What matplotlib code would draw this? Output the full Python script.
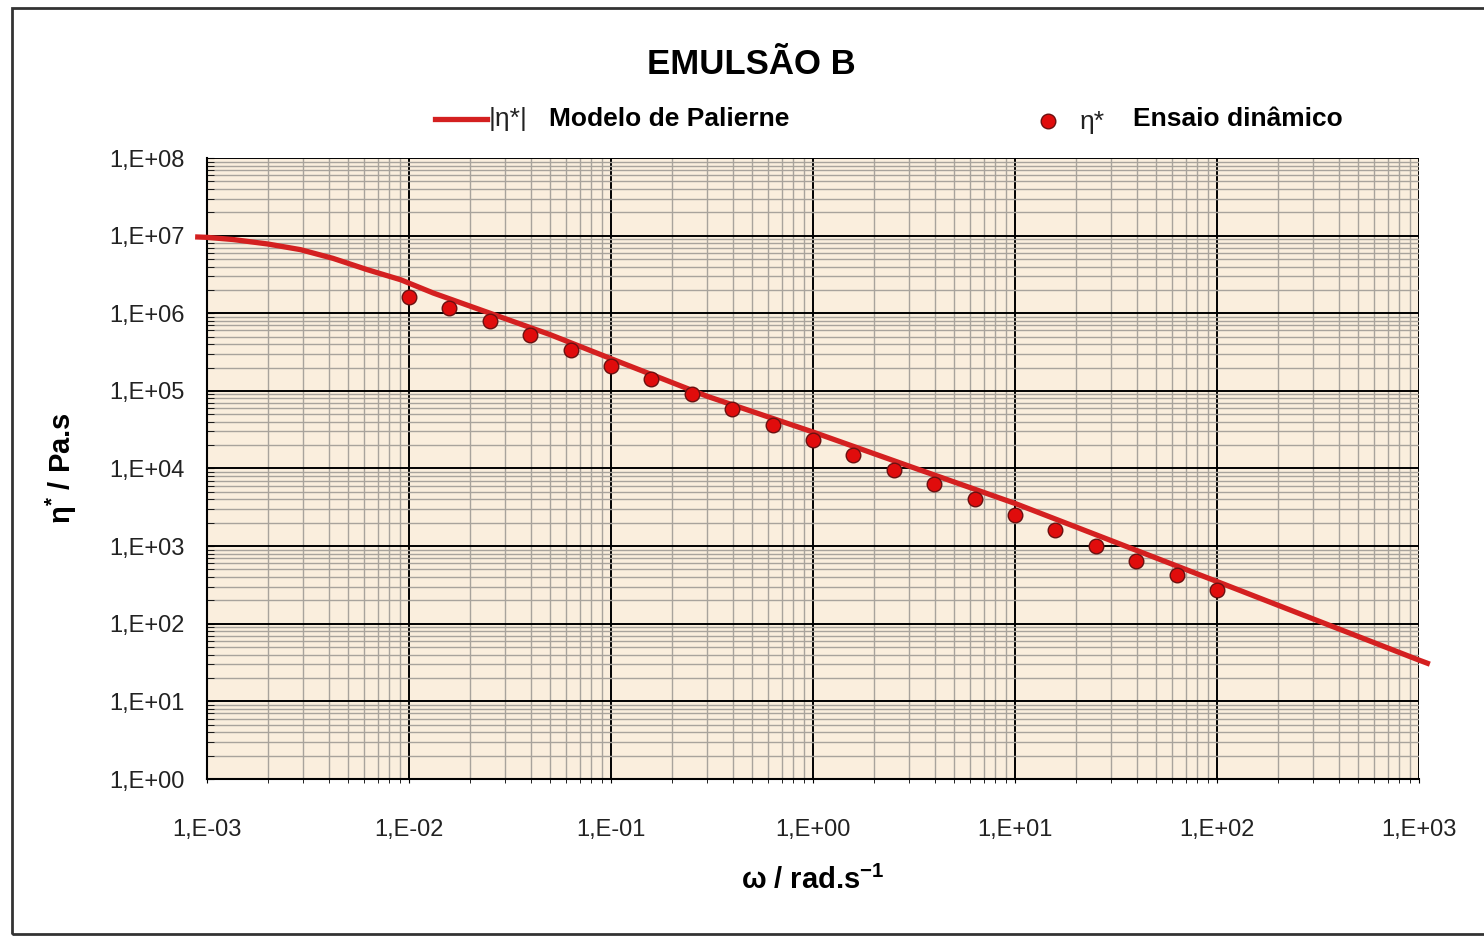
import matplotlib
matplotlib.use("Agg")
import matplotlib.pyplot as plt
import matplotlib.ticker as mticker
from matplotlib.lines import Line2D
from matplotlib.patches import Rectangle
import numpy as np

plt.rcParams['font.family'] = ['Liberation Sans', 'DejaVu Sans']
plt.rcParams['mathtext.fontset'] = 'custom'
plt.rcParams['mathtext.rm'] = 'Liberation Sans:bold'
plt.rcParams['mathtext.bf'] = 'Liberation Sans:bold'

# Ensaio dinamico (measured points)
omega_exp = [0.01, 0.0158, 0.0251, 0.0398, 0.0631, 0.1, 0.158, 0.251, 0.398, 0.631,
             1.0, 1.58, 2.51, 3.98, 6.31, 10.0, 15.8, 25.1, 39.8, 63.1, 100.0]
eta_exp = [1.6e6, 1.17e6, 8.0e5, 5.3e5, 3.4e5, 2.1e5, 1.42e5, 9.1e4, 5.9e4, 3.6e4,
           2.3e4, 1.5e4, 9.6e3, 6.3e3, 4.1e3, 2.5e3, 1.6e3, 1.0e3, 6.4e2, 4.3e2, 2.7e2]

# Modelo de Palierne (curve)
omega_mod = [9e-4, 1e-3, 1.35e-3, 2e-3, 2.9e-3, 4.2e-3, 6.2e-3, 9.1e-3, 1.32e-2, 1.78e-2,
             5e-2, 1e-1, 3e-1, 1.0, 3.0, 10.0, 100.0, 1000.0, 1100.0]
eta_mod = [9.6e6, 9.5e6, 8.9e6, 7.8e6, 6.6e6, 5.1e6, 3.65e6, 2.7e6, 1.82e6, 1.38e6,
           5.3e5, 2.6e5, 8.5e4, 2.95e4, 1.07e4, 3.55e3, 3.5e2, 34.0, 31.0]

x_major = [1e-3, 1e-2, 1e-1, 1e0, 1e1, 1e2, 1e3]
y_major = [1e0, 1e1, 1e2, 1e3, 1e4, 1e5, 1e6, 1e7, 1e8]

W, H = 1484, 938
fig = plt.figure(figsize=(W / 100, H / 100), dpi=100)
fig.patch.set_facecolor('white')

# outer frame
fig.patches.append(Rectangle((12 / W, 4 / H), 1.0, 1 - 12 / H, transform=fig.transFigure,
                             fill=False, edgecolor='#333333', linewidth=2))

ax = fig.add_axes([207 / W, 1 - 779 / H, (1419 - 207) / W, (779 - 158) / H])
ax.set_facecolor('#FAEEDD')
ax.set_xscale('log')
ax.set_yscale('log')
ax.set_xlim(1e-3, 1e3)
ax.set_ylim(1e0, 1e8)

x_minor = [m * d for d in x_major[:-1] for m in range(2, 10)]
y_minor = [m * d for d in y_major[:-1] for m in range(2, 10)]
ax.xaxis.set_major_locator(mticker.FixedLocator(x_major))
ax.yaxis.set_major_locator(mticker.FixedLocator(y_major))
ax.xaxis.set_minor_locator(mticker.FixedLocator(x_minor))
ax.yaxis.set_minor_locator(mticker.FixedLocator(y_minor))
ax.xaxis.set_minor_formatter(mticker.NullFormatter())
ax.yaxis.set_minor_formatter(mticker.NullFormatter())

fmt = mticker.FuncFormatter(lambda v, p: '1,E%+03d' % int(round(np.log10(v))))
ax.xaxis.set_major_formatter(fmt)
ax.yaxis.set_major_formatter(fmt)

ax.grid(which='minor', color='#a8a39c', linewidth=1.0)
ax.grid(which='major', color='black', linewidth=1.4)
ax.set_axisbelow(True)

for s in ['top', 'right']:
    ax.spines[s].set_visible(False)
for s in ['left', 'bottom']:
    ax.spines[s].set_color('black')
    ax.spines[s].set_linewidth(1.5)

ax.tick_params(axis='x', which='both', direction='out', length=3, pad=26,
               labelsize=17, labelcolor='#222222')
ax.tick_params(axis='y', which='both', direction='in', length=5, pad=16,
               labelsize=17, labelcolor='#222222')

ax.plot(omega_mod, eta_mod, color='#D42020', linewidth=3.8, clip_on=False, zorder=3)
ax.plot(omega_exp, eta_exp, linestyle='none', marker='o', markersize=10.5,
        markerfacecolor='#E00C0C', markeredgecolor='#6a1010', markeredgewidth=1.0, zorder=4)

ax.set_xlabel(r'ω / rad.s$^{-1}$', fontsize=21, fontweight='bold', labelpad=18)
ax.set_ylabel(r'η$^{*}$ / Pa.s', fontsize=21, fontweight='bold', labelpad=22)

fig.text(751 / W, 1 - 64 / H, 'EMULSÃO B', fontsize=25, fontweight='bold',
         ha='center', va='center')

# legend drawn by hand
y_leg = 1 - 119 / H
fig.add_artist(Line2D([435 / W, 487 / W], [y_leg, y_leg], transform=fig.transFigure,
                      color='#D42020', linewidth=3.8))
fig.text(489 / W, y_leg, '|η*|', fontsize=19, ha='left', va='center', color='#222222')
fig.text(549 / W, y_leg, 'Modelo de Palierne', fontsize=19, fontweight='bold',
         ha='left', va='center')
fig.add_artist(Line2D([1048 / W], [1 - 121 / H], transform=fig.transFigure,
                      linestyle='none', marker='o', markersize=10.5,
                      markerfacecolor='#E00C0C', markeredgecolor='#6a1010'))
fig.text(1080 / W, y_leg - 3 / H, 'η*', fontsize=19, ha='left', va='center', color='#222222')
fig.text(1133 / W, y_leg, 'Ensaio dinâmico', fontsize=19, fontweight='bold',
         ha='left', va='center')

fig.savefig('out.png', dpi=100)
